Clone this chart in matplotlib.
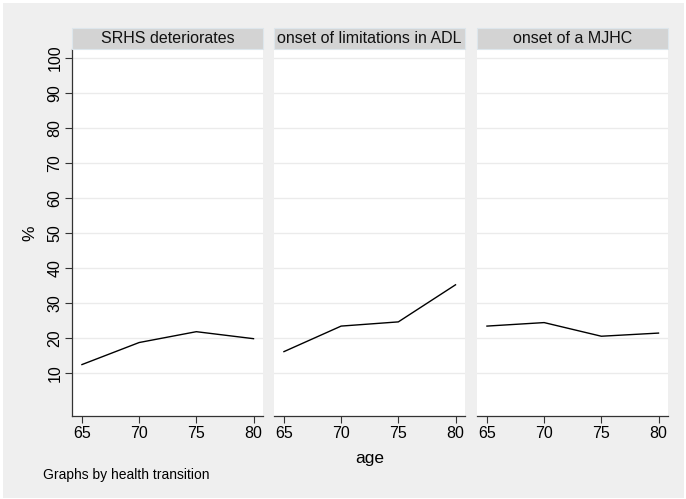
import matplotlib
matplotlib.use("Agg")
import matplotlib.pyplot as plt
from matplotlib.patches import Rectangle

plt.rcParams['font.family'] = ['Liberation Sans', 'DejaVu Sans']

# data
ages = [65, 70, 75, 80]
panel_titles = ["SRHS deteriorates", "onset of limitations in ADL", "onset of a MJHC"]
srhs = [12.4, 18.7, 21.8, 19.8]
adl = [16.1, 23.4, 24.6, 35.2]
mjhc = [23.4, 24.4, 20.5, 21.4]
series = [srhs, adl, mjhc]
y_ticks = [10, 20, 30, 40, 50, 60, 70, 80, 90, 100]
x_ticks = [65, 70, 75, 80]

W, H = 686, 499
fig = plt.figure(figsize=(W / 100, H / 100), dpi=100)
fig.patch.set_facecolor("white")
bg = "#efefef"
fig.patches.append(Rectangle((3 / W, 1 / H), 681 / W, 495 / H, transform=fig.transFigure,
                             facecolor=bg, edgecolor="none", zorder=-5))

lefts = [72, 274, 477]
pw = 191
top, bottom = 49, 416
strip_top = 28

for i, (left, vals, title) in enumerate(zip(lefts, series, panel_titles)):
    ax = fig.add_axes([left / W, 1 - bottom / H, pw / W, (bottom - top) / H])
    ax.set_facecolor("white")
    ax.set_xlim(64.13, 80.83)
    ax.set_ylim(-2.3, 102.6)
    for y in y_ticks:
        ax.axhline(y, color="#ebebeb", lw=1.0, zorder=1)
    ax.plot(ages, vals, color="black", lw=1.0, zorder=3)
    for s in ["top", "right"]:
        ax.spines[s].set_visible(False)
    ax.spines["bottom"].set_color("#333333")
    ax.spines["bottom"].set_linewidth(0.9)
    ax.set_xticks(x_ticks)
    ax.tick_params(axis="x", length=5, width=0.8, color="#333333", labelsize=11.5, pad=2)
    if i == 0:
        ax.spines["left"].set_color("#333333")
        ax.spines["left"].set_linewidth(0.9)
        ax.set_yticks(y_ticks)
        ax.tick_params(axis="y", length=5, width=0.8, color="#333333", labelsize=11.5, pad=2)
        for lab in ax.get_yticklabels():
            lab.set_rotation(90)
            lab.set_va("center")
    else:
        ax.spines["left"].set_visible(False)
        ax.set_yticks([])

    # strip header
    fig.patches.append(Rectangle((left / W, 1 - top / H), pw / W, (top - strip_top) / H,
                                 transform=fig.transFigure, facecolor="#d3d3d3",
                                 edgecolor="#dde6ec", lw=0.8, zorder=2))
    fig.text((left + pw / 2) / W, 1 - (top + strip_top) / 2 / H, title, ha="center",
             va="center", fontsize=11.5, color="#111111", zorder=3)

fig.text(30 / W, 1 - 233 / H, "%", rotation=90, ha="center", va="center", fontsize=12.5)
fig.text(370 / W, 1 - 458 / H, "age", ha="center", va="center", fontsize=12.5)
fig.text(43 / W, 1 - 475 / H, "Graphs by health transition", ha="left", va="center", fontsize=10)

fig.savefig("out.png", dpi=100, facecolor="white")
